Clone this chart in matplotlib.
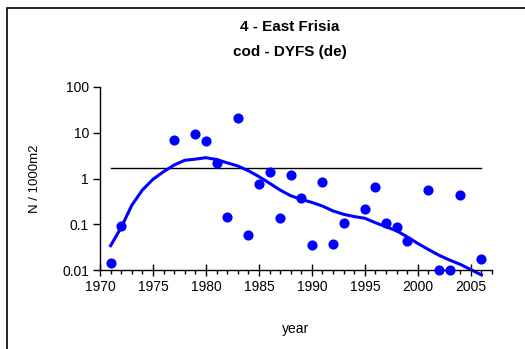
import numpy as np
import matplotlib
matplotlib.use("Agg")
import matplotlib.pyplot as plt
import matplotlib.ticker as plticker
from matplotlib.patches import Rectangle

plt.rcParams['font.family'] = ['Liberation Sans', 'DejaVu Sans']
fsize = 10

# survey index points
years = [1971, 1972, 1977, 1979, 1980, 1981, 1982, 1983, 1984, 1985, 1986, 1987, 1988,
         1989, 1990, 1991, 1992, 1993, 1995, 1996, 1997, 1998, 1999, 2001, 2002, 2003,
         2004, 2006]
values = [0.014, 0.093, 6.9, 9.2, 6.6, 2.2, 0.144, 21.0, 0.059, 0.75, 1.39, 0.137, 1.19,
          0.375, 0.035, 0.85, 0.037, 0.108, 0.215, 0.65, 0.108, 0.088, 0.044, 0.57, 0.0102,
          0.0102, 0.43, 0.017]

# smoothed trend
trend_years = list(range(1971, 2007))
trend_values = [0.034, 0.085, 0.26, 0.56, 0.96, 1.41, 1.97, 2.5, 2.65, 2.85, 2.6, 2.2,
                1.88, 1.48, 1.1, 0.79, 0.56, 0.42, 0.35, 0.30, 0.25, 0.195, 0.165, 0.147,
                0.135, 0.108, 0.088, 0.072, 0.053, 0.038, 0.028, 0.021, 0.0165, 0.0133,
                0.0102, 0.0078]

# reference level
ref_years = [1971, 2006]
ref_level = 1.72

fig = plt.figure(figsize=(5.25, 3.49), dpi=100)
fig.patches.append(Rectangle((7/525, -0.1), 1.2, 1 - 8/349 + 0.1, transform=fig.transFigure,
                             fill=False, edgecolor='black', linewidth=1.2))
ax = fig.add_axes([100/525, 1 - 270/349, 392/525, 183/349])

ax.plot(ref_years, [ref_level, ref_level], color='black', linewidth=1.0, zorder=1)
ax.plot(trend_years, trend_values, color='#0000ff', linewidth=2.2, zorder=2, clip_on=False)
ax.plot(years, values, 'o', color='#0000ff', markersize=7.3, markeredgewidth=0,
        zorder=3, clip_on=False)

ax.set_yscale('log')
ax.set_ylim(0.01, 100)
ax.set_xlim(1970, 2007)
ax.yaxis.set_major_locator(plticker.FixedLocator([0.01, 0.1, 1, 10, 100]))
ax.yaxis.set_major_formatter(plticker.FixedFormatter(['0.01', '0.1', '1', '10', '100']))
ax.yaxis.set_minor_locator(plticker.NullLocator())
ax.xaxis.set_major_locator(plticker.MultipleLocator(5))
ax.xaxis.set_minor_locator(plticker.MultipleLocator(1))

for s in ['top', 'right']:
    ax.spines[s].set_visible(False)
ax.spines['left'].set_linewidth(1.0)
ax.spines['bottom'].set_linewidth(1.0)
ax.tick_params(axis='y', which='major', direction='out', length=5, width=1.0,
               labelsize=fsize, pad=3)
ax.tick_params(axis='x', which='major', direction='inout', length=9, width=1.0,
               labelsize=fsize, pad=3)
ax.tick_params(axis='x', which='minor', direction='out', length=3, width=1.0)

ax.set_xlabel('year', fontsize=fsize, labelpad=20)
ax.set_ylabel('N / 1000m2', fontsize=fsize - 0.5, labelpad=15)
fig.text(290/525, 1 - 27/349, '4 - East Frisia', ha='center', va='center',
         fontsize=11, fontweight='bold')
fig.text(290/525, 1 - 52/349, 'cod - DYFS (de)', ha='center', va='center',
         fontsize=11, fontweight='bold')

plt.savefig('out.png', dpi=100)
